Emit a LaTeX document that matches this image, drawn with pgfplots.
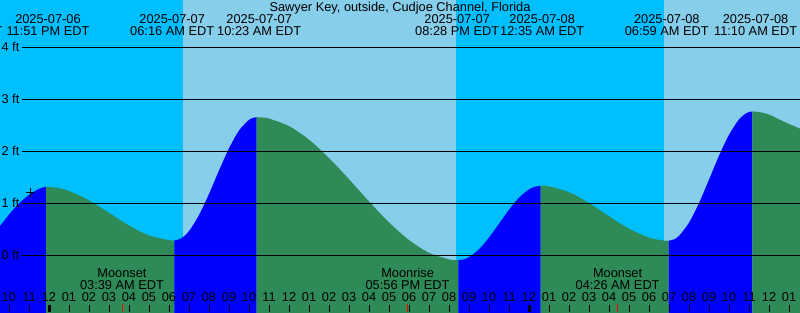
\documentclass[border=0pt]{standalone}
\usepackage{fontspec}
\setmainfont{Liberation Sans}
\usepackage{pgfplots}
\pgfplotsset{compat=1.18}
\definecolor{night}{HTML}{00BFFF}
\definecolor{day}{HTML}{87CEEB}
\definecolor{flood}{HTML}{0000FF}
\definecolor{ebb}{HTML}{2E8B57}
\begin{document}
\begin{tikzpicture}[font=\fontsize{9.6}{11}\selectfont]
\begin{axis}[
  at={(0,0)}, anchor=south west,
  scale only axis, width=600pt, height=234pt,
  xmin=-2.45, xmax=37.55, ymin=-1.0865, ymax=4.9135,
  axis line style={draw=none},
  axis on top,
  ytick=\empty,
  xtick={-2,...,37},
  xticklabels={10,11,12,01,02,03,04,05,06,07,08,09,10,11,12,01,02,03,04,05,06,07,08,09,10,11,12,01,02,03,04,05,06,07,08,09,10,11,12,01},
  xtick pos=bottom, tick align=inside,
  major tick length=4.9pt,
  tick style={black, line width=0.75pt},
  xticklabel style={anchor=base, yshift=7.7pt, inner sep=0pt, font=\fontsize{9.6}{11}\selectfont},
]
% day / night background
\addplot[fill=night, draw=none] coordinates {(-3,-1.2) (6.7,-1.2) (6.7,5) (-3,5)};
\addplot[fill=day, draw=none] coordinates {(6.7,-1.2) (20.35,-1.2) (20.35,5) (6.7,5)};
\addplot[fill=night, draw=none] coordinates {(20.35,-1.2) (30.75,-1.2) (30.75,5) (20.35,5)};
\addplot[fill=day, draw=none] coordinates {(30.75,-1.2) (38,-1.2) (38,5) (30.75,5)};
% tide level (ft) vs hours from midnight 2025-07-07; rising = blue, falling = green
\addplot[fill=flood, draw=none, smooth] coordinates {
(-3.0,0.35) (-2.45,0.57) (-1.95,0.81) (-1.45,1.02) (-0.95,1.18) (-0.45,1.29) (-0.15,1.32)}
 -- (axis cs:-0.15,-1.2) -- (axis cs:-3,-1.2) -- cycle;
\addplot[fill=ebb, draw=none, smooth] coordinates {
(-0.15,1.32) (0.15,1.314) (0.5,1.294) (1,1.241) (2,1.060) (3,0.820) (4,0.576) (5,0.386) (6,0.295) (6.27,0.29)}
 -- (axis cs:6.27,-1.2) -- (axis cs:-0.15,-1.2) -- cycle;
\addplot[fill=flood, draw=none, smooth] coordinates {
(6.27,0.29) (6.6,0.328) (7,0.470) (7.5,0.777) (8,1.184) (8.5,1.634) (9,2.060) (9.5,2.403) (10,2.610) (10.15,2.642) (10.38,2.66)}
 -- (axis cs:10.38,-1.2) -- (axis cs:6.27,-1.2) -- cycle;
\addplot[fill=ebb, draw=none, smooth] coordinates {
(10.38,2.66) (10.7,2.653) (11,2.634) (12,2.488) (13,2.228) (14,1.875) (15,1.467) (16,1.039) (17,0.637) (18,0.298)
(19,0.052) (20,-0.075) (20.2,-0.085) (20.47,-0.09)}
 -- (axis cs:20.47,-1.2) -- (axis cs:10.38,-1.2) -- cycle;
\addplot[fill=flood, draw=none, smooth] coordinates {
(20.47,-0.09) (20.75,-0.074) (21,-0.032) (21.5,0.120) (22,0.345) (22.5,0.611) (23,0.879) (23.5,1.110) (24,1.271) (24.3,1.324) (24.58,1.34)}
 -- (axis cs:24.58,-1.2) -- (axis cs:20.47,-1.2) -- cycle;
\addplot[fill=ebb, draw=none, smooth] coordinates {
(24.58,1.34) (25,1.329) (26,1.217) (27,1.009) (28,0.755) (29,0.515) (30,0.345) (30.6,0.294) (30.98,0.285)}
 -- (axis cs:30.98,-1.2) -- (axis cs:24.58,-1.2) -- cycle;
\addplot[fill=flood, draw=none, smooth] coordinates {
(30.98,0.285) (31.25,0.310) (31.5,0.378) (32,0.630) (32.5,1.008) (33,1.458) (33.5,1.918) (34,2.321) (34.5,2.616) (34.9,2.745) (35.17,2.77)}
 -- (axis cs:35.17,-1.2) -- (axis cs:30.98,-1.2) -- cycle;
\addplot[fill=ebb, draw=none, smooth] coordinates {
(35.17,2.77) (35.5,2.76) (36,2.71) (36.55,2.61) (37,2.53) (37.55,2.44) (38,2.35)}
 -- (axis cs:38,-1.2) -- (axis cs:35.17,-1.2) -- cycle;
% level lines
\addplot[black, line width=0.75pt] coordinates {(-1.365,0) (38,0)};
\addplot[black, line width=0.75pt] coordinates {(-1.365,1) (38,1)};
\addplot[black, line width=0.75pt] coordinates {(-1.365,2) (38,2)};
\addplot[black, line width=0.75pt] coordinates {(-1.365,3) (38,3)};
\addplot[black, line width=0.75pt] coordinates {(-1.365,4) (38,4)};
% current-time mark
\addplot[only marks, mark=+, mark size=3.2pt, black, line width=0.75pt] coordinates {(-0.95,1.21)};
% midnight ticks
\addplot[black, line width=2.25pt] coordinates {(0,-1.0865) (0,-0.96)};
\addplot[black, line width=2.25pt] coordinates {(24,-1.0865) (24,-0.96)};
% moon event ticks
\addplot[red, line width=0.75pt] coordinates {(3.65,-1.0865) (3.65,-0.94)};
\addplot[red, line width=0.75pt] coordinates {(17.93,-1.0865) (17.93,-0.94)};
\addplot[red, line width=0.75pt] coordinates {(28.43,-1.0865) (28.43,-0.94)};
% level labels
\node[anchor=base east, inner sep=0pt] at (axis cs:-1.47,-0.08) {0 ft};
\node[anchor=base east, inner sep=0pt] at (axis cs:-1.47,0.92) {1 ft};
\node[anchor=base east, inner sep=0pt] at (axis cs:-1.47,1.92) {2 ft};
\node[anchor=base east, inner sep=0pt] at (axis cs:-1.47,2.92) {3 ft};
\node[anchor=base east, inner sep=0pt] at (axis cs:-1.47,3.92) {4 ft};
% title
\node[anchor=base] at (axis cs:17.55,4.696) {Sawyer Key, outside, Cudjoe Channel, Florida};
% tide event labels
\node[anchor=base] at (axis cs:-4.43,4.227) {07:34 PM EDT};
\node[anchor=base] at (axis cs:-0.05,4.465) {2025-07-06};
\node[anchor=base] at (axis cs:-0.05,4.227) {11:51 PM EDT};
\node[anchor=base] at (axis cs:6.16,4.465) {2025-07-07};
\node[anchor=base] at (axis cs:6.16,4.227) {06:16 AM EDT};
\node[anchor=base] at (axis cs:10.51,4.465) {2025-07-07};
\node[anchor=base] at (axis cs:10.51,4.227) {10:23 AM EDT};
\node[anchor=base] at (axis cs:20.41,4.465) {2025-07-07};
\node[anchor=base] at (axis cs:20.41,4.227) {08:28 PM EDT};
\node[anchor=base] at (axis cs:24.66,4.465) {2025-07-08};
\node[anchor=base] at (axis cs:24.66,4.227) {12:35 AM EDT};
\node[anchor=base] at (axis cs:30.89,4.465) {2025-07-08};
\node[anchor=base] at (axis cs:30.89,4.227) {06:59 AM EDT};
\node[anchor=base] at (axis cs:35.33,4.465) {2025-07-08};
\node[anchor=base] at (axis cs:35.33,4.227) {11:10 AM EDT};
% moon labels
\node[anchor=base] at (axis cs:3.65,-0.427) {Moonset};
\node[anchor=base] at (axis cs:3.65,-0.663) {03:39 AM EDT};
\node[anchor=base] at (axis cs:17.93,-0.427) {Moonrise};
\node[anchor=base] at (axis cs:17.93,-0.663) {05:56 PM EDT};
\node[anchor=base] at (axis cs:28.43,-0.427) {Moonset};
\node[anchor=base] at (axis cs:28.43,-0.663) {04:26 AM EDT};
\end{axis}
\pgfresetboundingbox
\path (0,0) rectangle (600pt,234pt);
\end{tikzpicture}
\end{document}
